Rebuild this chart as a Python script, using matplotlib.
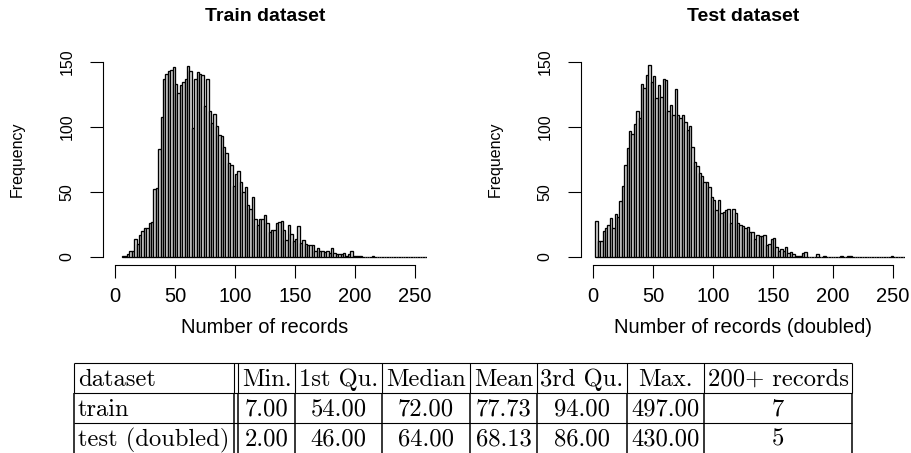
import numpy as np
import matplotlib.pyplot as plt

W, H = 911, 453

# histogram data: counts per bin of width 2
bin_width = 2
train_first_break = 6
train_counts = [
    1, 1, 2, 5, 5, 14, 10, 17, 20, 22,
    22, 26, 27, 52, 53, 83, 108, 137, 141, 143,
    144, 146, 133, 126, 132, 135, 137, 147, 143, 99,
    137, 142, 141, 140, 116, 137, 112, 103, 110, 101,
    94, 93, 85, 80, 72, 71, 55, 64, 66, 58,
    50, 54, 40, 37, 46, 29, 25, 29, 29, 32,
    26, 19, 21, 21, 26, 27, 28, 21, 13, 25,
    18, 12, 14, 24, 11, 13, 10, 9, 9, 9,
    5, 7, 5, 5, 4, 5, 3, 7, 3, 2,
    2, 2, 3, 1, 2, 5, 1, 1, 1, 1,
    0, 0, 0, 0, 1,
] + [0] * 23

test_first_break = 2
test_counts = [
    28, 12, 12, 20, 22, 25, 30, 22, 33, 31,
    43, 55, 71, 84, 97, 95, 102, 112, 107, 133,
    130, 140, 148, 135, 139, 122, 132, 123, 137, 136,
    112, 117, 109, 129, 109, 107, 109, 104, 98, 101,
    85, 73, 70, 65, 62, 58, 58, 54, 46, 44,
    36, 44, 34, 35, 36, 37, 26, 37, 34, 26,
    25, 24, 22, 23, 19, 19, 14, 17, 16, 16,
    17, 9, 10, 14, 15, 8, 5, 6, 5, 8,
    3, 4, 2, 1, 1, 1, 3, 4,
] + [0, 0, 0, 0, 2, 0, 0, 1] + [0] * 6 + [1, 0, 0, 1, 1] + [0] * 16 + [1] + [0] * 6

x_ticks = [0, 50, 100, 150, 200, 250]
y_ticks = [0, 50, 100, 150]

table_header = ["dataset", "Min.", "1st Qu.", "Median", "Mean", "3rd Qu.", "Max.", "200+ records"]
table_rows = [
    ["train", "7.00", "54.00", "72.00", "77.73", "94.00", "497.00", "7"],
    ["test (doubled)", "2.00", "46.00", "64.00", "68.13", "86.00", "430.00", "5"],
]

sans = 'Liberation Sans'

fig = plt.figure(figsize=(W / 100, H / 100), dpi=100)


def px_rect(x0, y0, x1, y1):
    return [x0 / W, 1 - y1 / H, (x1 - x0) / W, (y1 - y0) / H]


def draw_hist(rect, first_break, counts, title, xlabel):
    ax = fig.add_axes(rect)
    breaks = first_break + bin_width * np.arange(len(counts))
    ax.bar(breaks, counts, width=bin_width, align='edge',
           facecolor='#dcdcdc', edgecolor='black', linewidth=0.95)
    ax.set_xlim(-10, 260)
    ax.set_ylim(-6, 156)
    for s in ['top', 'right']:
        ax.spines[s].set_visible(False)
    ax.spines['bottom'].set_bounds(0, 250)
    ax.spines['left'].set_bounds(0, 150)
    for s in ['bottom', 'left']:
        ax.spines[s].set_linewidth(0.8)

    ax.set_xticks(x_ticks)
    ax.set_xticklabels([str(t) for t in x_ticks], fontfamily=sans, fontsize=14.5)
    ax.set_yticks(y_ticks)
    ax.set_yticklabels([str(t) for t in y_ticks], fontfamily=sans, fontsize=11.5,
                       rotation=90, va='center')
    ax.tick_params(direction='out', length=9.4, width=0.8)
    ax.tick_params(axis='x', pad=6.5)
    ax.tick_params(axis='y', pad=11)

    ax.set_title(title, fontfamily=sans, fontweight='bold', fontsize=14,
                 y=1.177, va='center', pad=0)
    ax.set_xlabel(xlabel, fontfamily=sans, fontsize=14.5)
    ax.xaxis.set_label_coords(0.5, -0.326)
    ax.xaxis.label.set_va('baseline')
    ax.set_ylabel('Frequency', fontfamily=sans, fontsize=11.5)
    ax.yaxis.set_label_coords(-0.264, 0.5)
    ax.yaxis.label.set_va('center')
    return ax


draw_hist(px_rect(103, 54.2, 427, 264.8), train_first_break, train_counts,
          'Train dataset', 'Number of records')
draw_hist(px_rect(581, 54.2, 905, 264.8), test_first_break, test_counts,
          'Test dataset', 'Number of records (doubled)')

# summary table drawn in pixel coordinates
tax = fig.add_axes([0, 0, 1, 1])
tax.set_xlim(0, W)
tax.set_ylim(H, 0)
tax.axis('off')
tax.patch.set_visible(False)

col_bounds = [74, 238, 295, 382, 470, 537, 627, 704, 852]
double_x = 234
row_lines = [363, 393, 423, 453]

for y in row_lines[:-1]:
    tax.plot([col_bounds[0], col_bounds[-1]], [y, y], color='black', lw=0.8,
             solid_capstyle='butt')

for r in range(len(row_lines) - 1):
    lw = 0.8 if r == 0 else 1.1
    for x in col_bounds + [double_x]:
        tax.plot([x, x], [row_lines[r], row_lines[r + 1]], color='black', lw=lw,
                 solid_capstyle='butt')

all_rows = [table_header] + table_rows
for r, row in enumerate(all_rows):
    base = row_lines[r + 1] - 7
    for c, txt in enumerate(row):
        if c == 0:
            tax.text(col_bounds[0] + 4, base, txt, ha='left', va='baseline',
                     fontfamily='cmr10', fontsize=17.7)
        else:
            xc = (col_bounds[c] + col_bounds[c + 1]) / 2
            tax.text(xc, base, txt, ha='center', va='baseline',
                     fontfamily='cmr10', fontsize=17.7)

fig.savefig('out.png', dpi=100)
